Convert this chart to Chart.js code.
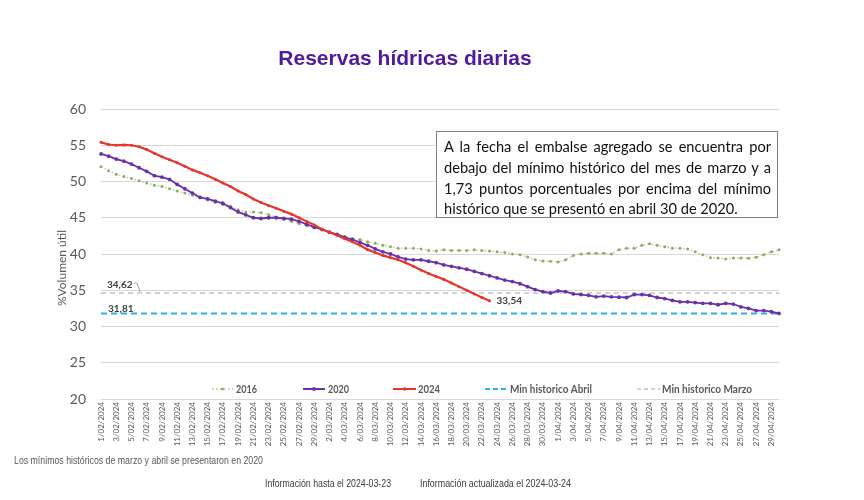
<!DOCTYPE html>
<html><head><meta charset="utf-8">
<script src="https://cdn.jsdelivr.net/npm/chart.js@4.4.1/dist/chart.umd.min.js"></script>
<style>
html,body{margin:0;padding:0;background:#fff;}
#wrap{position:relative;width:864px;height:500px;overflow:hidden;background:#fff;}
#c{position:absolute;left:0;top:0;}
.note{position:absolute;white-space:nowrap;font-family:"Liberation Sans Narrow","Liberation Sans",Arial,sans-serif;font-size:10px;line-height:12px;color:#595959;transform-origin:0 50%;}
#box{position:absolute;left:436px;top:131px;width:342px;height:87px;border:1px solid #808080;background:#fff;box-sizing:border-box;}
#box .ln{position:absolute;left:7px;white-space:nowrap;font-family:Lato,"Liberation Sans",sans-serif;font-size:15px;line-height:20px;color:#111;}
</style></head>
<body>
<div id="wrap">
<canvas id="c" width="864" height="500"></canvas>
<div id="box">
<div class="ln" data-w="327" style="top:5px">A la fecha el embalse agregado se encuentra por</div>
<div class="ln" data-w="327" style="top:26px">debajo del mínimo histórico del mes de marzo y a</div>
<div class="ln" data-w="327" style="top:47px">1,73 puntos porcentuales por encima del mínimo</div>
<div class="ln" id="last" style="top:67px">histórico que se presentó en abril 30 de 2020.</div>
</div>
<div class="note" data-w="249" style="left:14px;top:455px">Los mínimos históricos de marzo y abril se presentaron en 2020</div>
<div class="note" data-w="126" style="left:265px;top:478px;color:#404040">Información hasta el 2024-03-23</div>
<div class="note" data-w="151" style="left:420px;top:478px;color:#404040">Información actualizada el 2024-03-24</div>
</div>
<script>
// ---- categories (1 Feb .. 30 Apr) ----
const dates = [
'1/02/2024','2/02/2024','3/02/2024','4/02/2024','5/02/2024','6/02/2024','7/02/2024','8/02/2024','9/02/2024','10/02/2024',
'11/02/2024','12/02/2024','13/02/2024','14/02/2024','15/02/2024','16/02/2024','17/02/2024','18/02/2024','19/02/2024','20/02/2024',
'21/02/2024','22/02/2024','23/02/2024','24/02/2024','25/02/2024','26/02/2024','27/02/2024','28/02/2024','29/02/2024',
'1/03/2024','2/03/2024','3/03/2024','4/03/2024','5/03/2024','6/03/2024','7/03/2024','8/03/2024','9/03/2024','10/03/2024',
'11/03/2024','12/03/2024','13/03/2024','14/03/2024','15/03/2024','16/03/2024','17/03/2024','18/03/2024','19/03/2024','20/03/2024',
'21/03/2024','22/03/2024','23/03/2024','24/03/2024','25/03/2024','26/03/2024','27/03/2024','28/03/2024','29/03/2024','30/03/2024','31/03/2024',
'1/04/2024','2/04/2024','3/04/2024','4/04/2024','5/04/2024','6/04/2024','7/04/2024','8/04/2024','9/04/2024','10/04/2024',
'11/04/2024','12/04/2024','13/04/2024','14/04/2024','15/04/2024','16/04/2024','17/04/2024','18/04/2024','19/04/2024','20/04/2024',
'21/04/2024','22/04/2024','23/04/2024','24/04/2024','25/04/2024','26/04/2024','27/04/2024','28/04/2024','29/04/2024','30/04/2024'
];
// ---- series ----
const s2016 = [
52.05,51.5,51.0,50.7,50.4,50.1,49.8,49.5,49.3,49.0,48.7,48.4,48.1,47.8,47.5,47.1,46.8,46.6,
46.1,45.8,45.8,45.7,45.4,45.1,44.8,44.5,44.2,43.9,43.6,43.3,43.0,42.7,42.4,42.1,42.0,41.7,
41.5,41.2,41.0,40.8,40.8,40.8,40.7,40.5,40.4,40.6,40.5,40.5,40.5,40.6,40.5,40.4,40.3,40.2,
40.0,39.9,39.6,39.2,39.05,39.0,38.9,39.2,39.8,40.0,40.1,40.1,40.1,40.0,40.6,40.8,40.8,41.2,
41.4,41.2,41.0,40.8,40.8,40.7,40.3,39.9,39.5,39.45,39.3,39.45,39.45,39.4,39.55,39.9,40.3,40.6
];
const s2020 = [
53.8,53.5,53.1,52.8,52.4,51.9,51.4,50.8,50.6,50.3,49.6,49.0,48.4,47.8,47.6,47.3,47.0,46.4,
45.8,45.4,45.0,44.9,45.0,45.0,44.9,44.8,44.5,44.1,43.7,43.4,43.0,42.7,42.3,42.0,41.6,41.2,
40.7,40.3,40.0,39.6,39.3,39.2,39.2,39.0,38.8,38.5,38.3,38.1,37.9,37.6,37.3,37.0,36.7,36.4,
36.2,35.9,35.5,35.1,34.8,34.62,34.9,34.8,34.5,34.4,34.3,34.1,34.2,34.1,34.05,34.0,34.4,34.4,
34.3,34.0,33.85,33.6,33.4,33.4,33.3,33.2,33.2,33.0,33.2,33.1,32.7,32.5,32.2,32.2,32.05,31.81
];
const s2024 = [
55.4,55.1,55.0,55.05,55.0,54.8,54.4,53.9,53.4,53.0,52.6,52.1,51.6,51.2,50.8,50.3,49.8,49.3,
48.7,48.2,47.6,47.1,46.7,46.3,45.9,45.5,45.0,44.5,44.0,43.4,43.0,42.6,42.1,41.7,41.2,40.6,
40.2,39.8,39.5,39.2,38.8,38.3,37.8,37.3,36.9,36.5,36.0,35.5,35.0,34.5,34.0,33.54
];
const minAbril = 31.81;
const minMarzo = 34.62;
const yTicks = [20,25,30,35,40,45,50,55,60];

const RED='#e3372c', PURPLE='#6b30a8', GREEN='#abc785', GREENPT='#8eab63', CYAN='#2bb3e6', GREY='#a6a6a6';
Chart.defaults.font.family = 'Lato, "Liberation Sans", sans-serif';

function fmt(v){return v.toFixed(2).replace('.',',');}

const overlay = {
  id:'overlay',
  afterDraw(chart){
    const {ctx, scales:{x,y}} = chart;
    ctx.save();
    // y axis title
    ctx.save();
    ctx.translate(62, 268);
    ctx.rotate(-Math.PI/2);
    ctx.font = '12px Lato, "Liberation Sans", sans-serif';
    ctx.fillStyle = '#595959';
    ctx.textAlign = 'center'; ctx.textBaseline = 'middle';
    ctx.fillText('%Volumen útil', 0, 0);
    ctx.restore();
    // value labels
    ctx.font = 'bold 10px Lato, "Liberation Sans", sans-serif';
    ctx.fillStyle = '#404040';
    ctx.textAlign = 'left'; ctx.textBaseline = 'middle';
    const yM = y.getPixelForValue(minMarzo), yA = y.getPixelForValue(minAbril);
    ctx.fillText(fmt(minMarzo), 107, yM - 8);
    ctx.strokeStyle = '#a6a6a6'; ctx.lineWidth = 1;
    ctx.beginPath(); ctx.moveTo(134, yM - 10); ctx.lineTo(137, yM - 10); ctx.lineTo(140, yM - 1); ctx.stroke();
    ctx.fillText(fmt(minAbril), 108, yA - 5);
    const last = s2024.length - 1;
    ctx.fillText(fmt(s2024[last]), x.getPixelForValue(last) + 7, y.getPixelForValue(s2024[last]));
    // legend
    const ly = 389;
    ctx.font = 'bold 11px Lato, "Liberation Sans", sans-serif';
    ctx.fillStyle = '#595959';
    const items = [
      {t:'2016', x1:212, x2:233, tx:236, w:21, c:GREEN, dash:[1.5,2.5], lw:1.5, pt:GREENPT, r:1.5},
      {t:'2020', x1:303, x2:325, tx:328, w:21, c:PURPLE, dash:[], lw:2, pt:PURPLE, r:2},
      {t:'2024', x1:393, x2:416, tx:418, w:22, c:RED, dash:[], lw:2, pt:RED, r:1.8},
      {t:'Min historico Abril', x1:485, x2:508, tx:510, w:82, c:CYAN, dash:[5,3], lw:2, pt:null},
      {t:'Min historico Marzo', x1:637, x2:660, tx:662, w:90, c:GREY, dash:[4,3], lw:1.2, pt:null}
    ];
    items.forEach(it=>{
      ctx.save();
      ctx.strokeStyle = it.c; ctx.lineWidth = it.lw; ctx.setLineDash(it.dash);
      ctx.beginPath(); ctx.moveTo(it.x1, ly); ctx.lineTo(it.x2, ly); ctx.stroke();
      if (it.pt){ ctx.fillStyle = it.pt; ctx.beginPath(); ctx.arc((it.x1+it.x2)/2, ly, it.r, 0, Math.PI*2); ctx.fill(); }
      ctx.restore();
      ctx.fillText(it.t, it.tx, ly, it.w);
    });
    ctx.restore();
  }
};

new Chart(document.getElementById('c'), {
  type:'line',
  data:{
    labels: dates,
    datasets:[
      {label:'2024', data:s2024, borderColor:RED, backgroundColor:RED, borderWidth:2.2, pointRadius:1.5, pointBorderWidth:0, pointBackgroundColor:RED, order:1},
      {label:'2020', data:s2020, borderColor:PURPLE, backgroundColor:PURPLE, borderWidth:1.8, pointRadius:1.9, pointBorderWidth:0, pointBackgroundColor:PURPLE, order:2},
      {label:'2016', data:s2016, borderColor:GREEN, backgroundColor:GREENPT, borderWidth:1.3, borderDash:[1.5,2.5], pointRadius:1.5, pointBorderWidth:0, pointBackgroundColor:GREENPT, order:3},
      {label:'Min historico Abril', data:dates.map(()=>minAbril), borderColor:CYAN, borderWidth:2, borderDash:[6,4], pointRadius:0, order:4},
      {label:'Min historico Marzo', data:dates.map(()=>minMarzo), borderColor:GREY, borderWidth:1.2, borderDash:[5,4], pointRadius:0, order:5}
    ]
  },
  options:{
    responsive:false, animation:false, devicePixelRatio:1,
    layout:{padding:{left:31, right:85, top:0, bottom:0}},
    plugins:{
      legend:{display:false}, tooltip:{enabled:false},
      title:{display:true, text:'Reservas hídricas diarias', color:'#4f1b9b',
        font:{family:'"Liberation Sans", Arial, sans-serif', size:21, weight:'bold'},
        padding:{top:47, bottom:36.8}}
    },
    scales:{
      x:{
        grid:{display:false, drawTicks:false}, border:{display:false},
        ticks:{autoSkip:false, minRotation:90, maxRotation:90, padding:3, color:'#595959', font:{size:8},
          callback(v,i){ return i%2===0 ? this.getLabelForValue(v) : ''; }},
        afterFit(s){ s.height = 101; }
      },
      y:{
        min:20, max:60,
        afterBuildTicks(s){ s.ticks = yTicks.map(v=>({value:v})); },
        grid:{color:'#d9d9d9', drawTicks:false, lineWidth:1}, border:{display:false},
        ticks:{padding:15, color:'#595959', font:{size:14}},
        afterFit(s){ s.width = 70; }
      }
    }
  },
  plugins:[overlay]
});

// text box justification
(function(){
  const last = document.getElementById('last');
  const w4 = last.getBoundingClientRect().width;
  const fs = 15 * 294 / w4;
  document.querySelectorAll('#box .ln').forEach(el=>{ el.style.fontSize = fs + 'px'; });
  document.querySelectorAll('#box .ln[data-w]').forEach(el=>{
    const target = +el.dataset.w;
    const w = el.getBoundingClientRect().width;
    const spaces = (el.textContent.match(/ /g)||[]).length;
    el.style.wordSpacing = ((target - w)/spaces) + 'px';
  });
  document.querySelectorAll('.note').forEach(el=>{
    const w = el.getBoundingClientRect().width;
    el.style.transform = 'scaleX(' + (+el.dataset.w / w) + ')';
  });
})();
</script>
</body></html>
